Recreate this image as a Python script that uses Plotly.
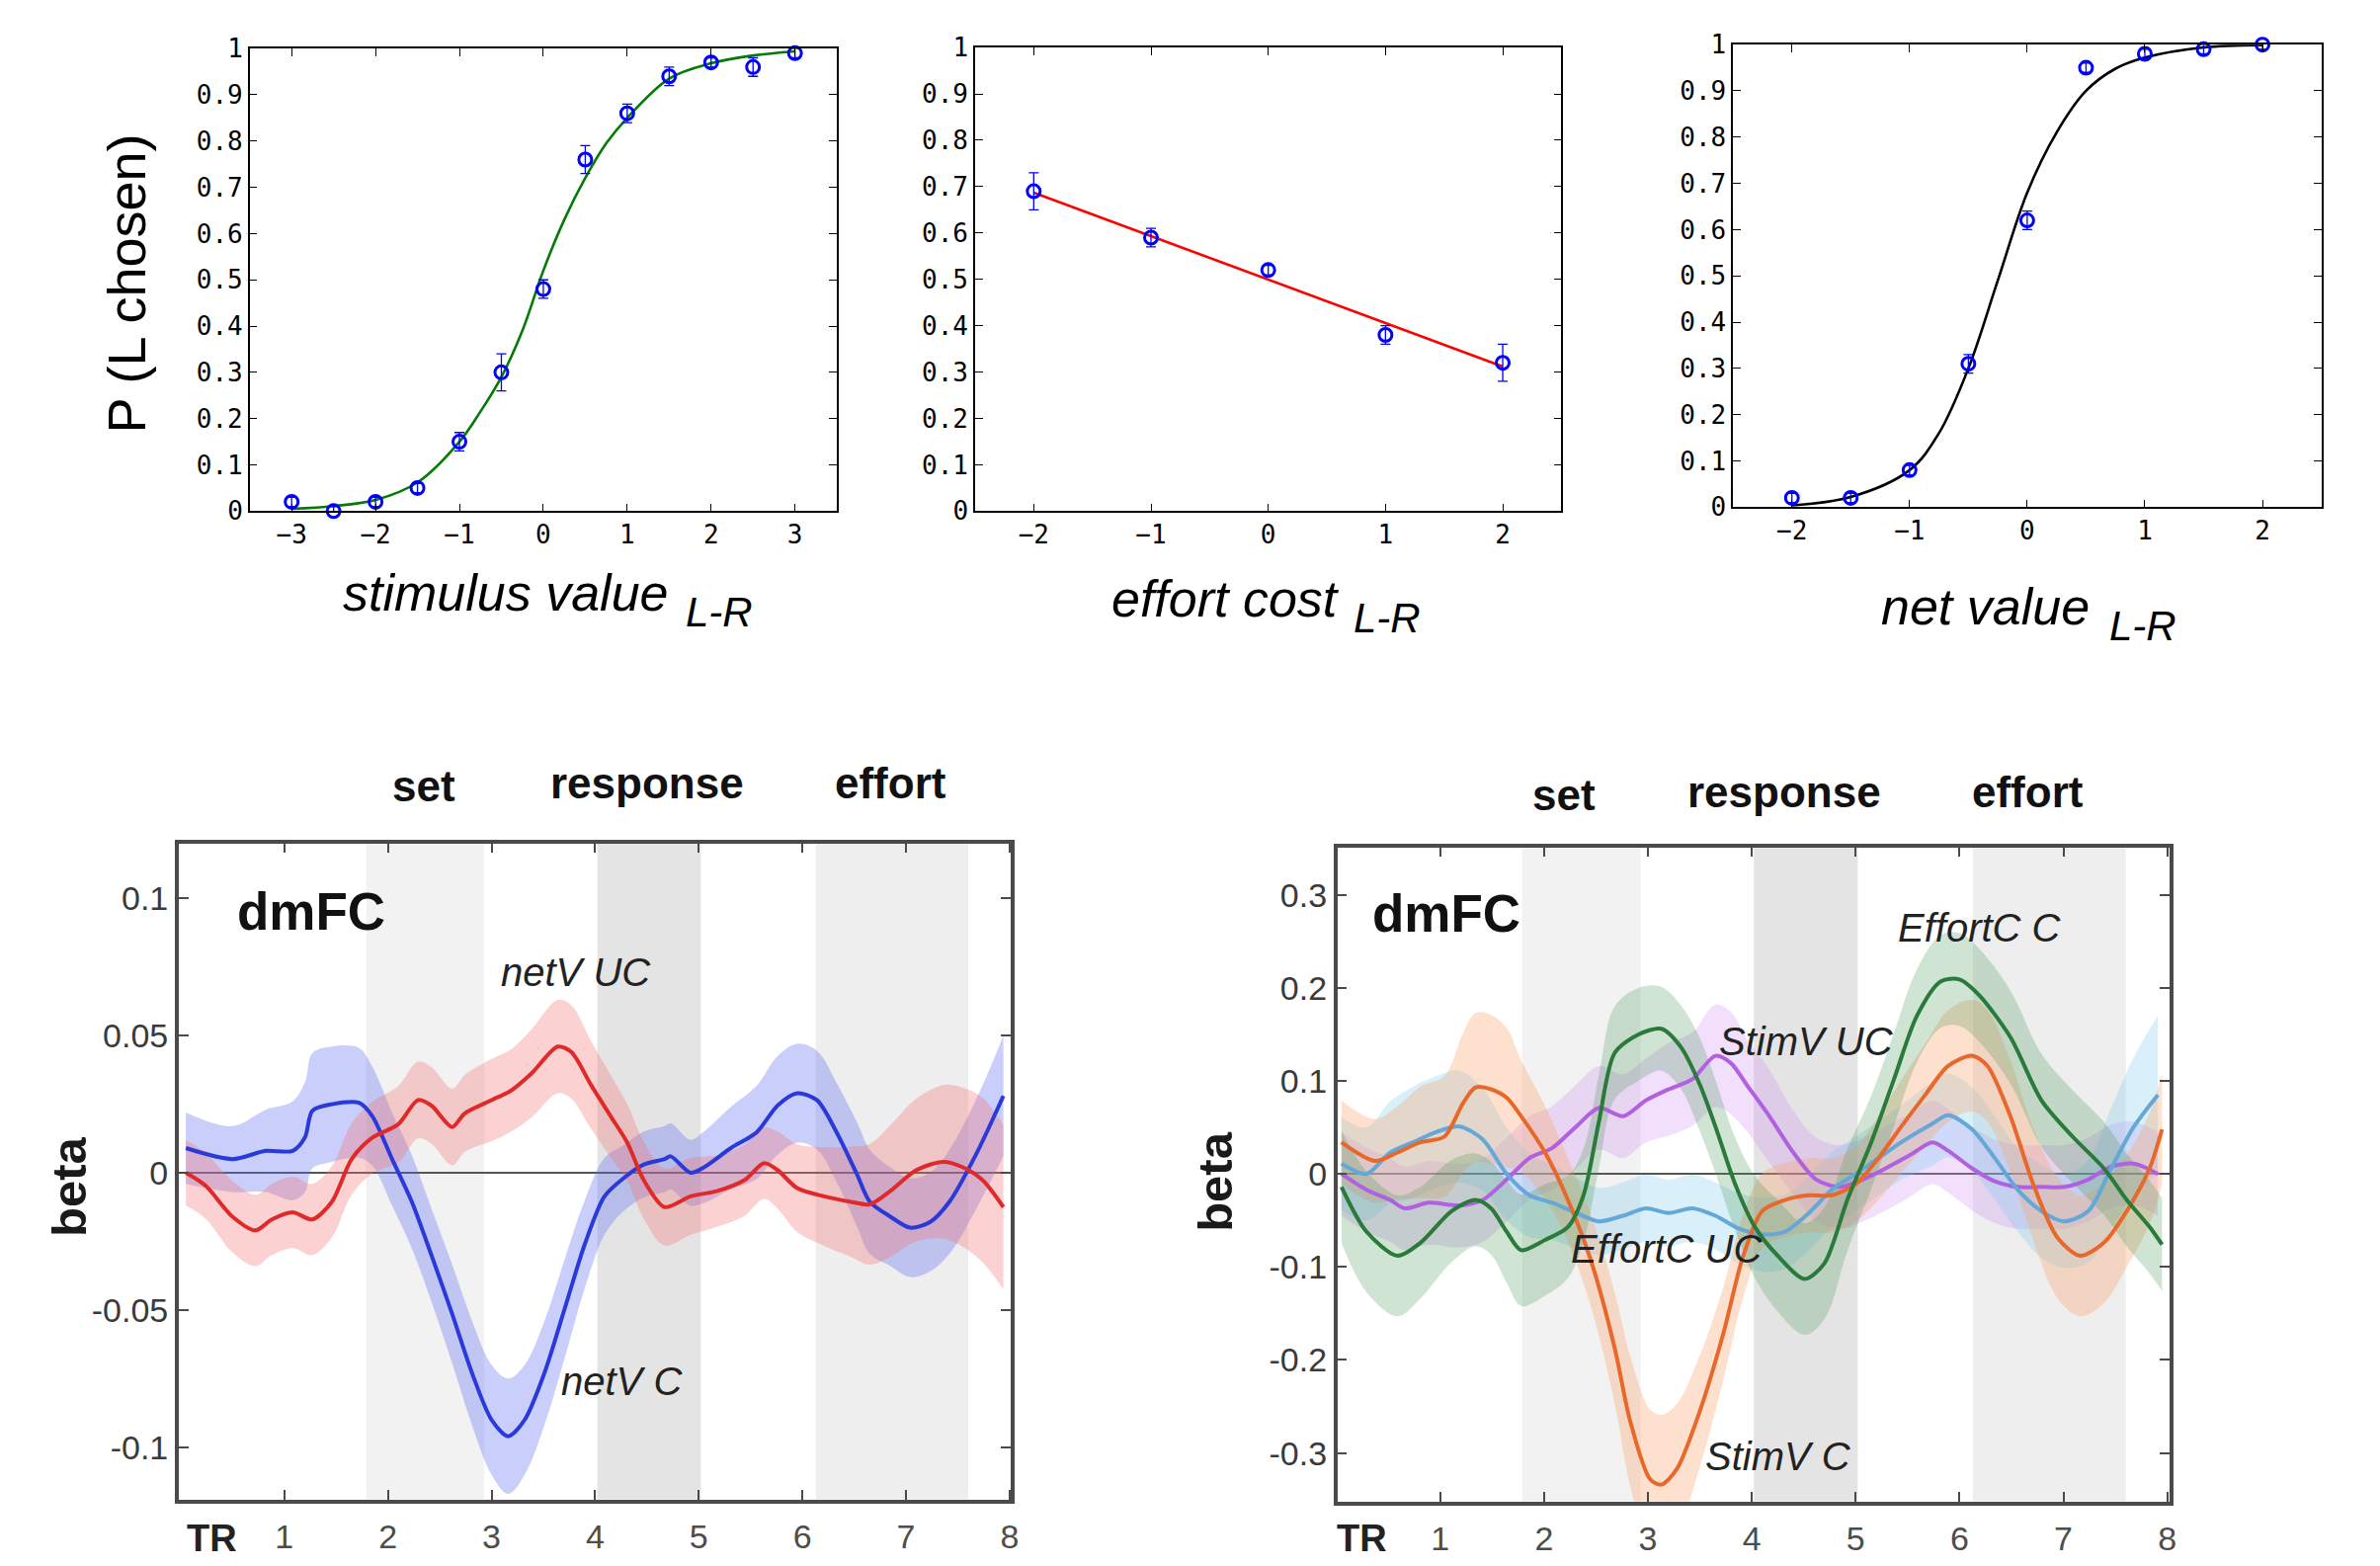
import plotly.graph_objects as go

W, H = 2409, 1585
# small empirical correction so that on-screen positions match the target pixel positions
A_X, B_X = 0.9977, -1.0
A_Y, B_Y = 0.9828, 11.8

def px(x):
    return ((x - B_X) / A_X) / W

def py(y):
    return 1 - ((y - B_Y) / A_Y) / H

# ---------------- top panels data ----------------
stim_x = [-3, -2.5, -2, -1.5, -1, -0.5, 0, 0.5, 1, 1.5, 2, 2.5, 3]
stim_p = [0.02, 0.0, 0.02, 0.05, 0.15, 0.30, 0.48, 0.76, 0.86, 0.94, 0.97, 0.96, 0.99]
stim_err = [0.01, 0.01, 0.01, 0.01, 0.02, 0.04, 0.02, 0.03, 0.02, 0.02, 0.01, 0.02, 0.01]
stim_fit_x = [-3, -2.5, -2, -1.5, -1, -0.75, -0.5, -0.25, 0, 0.25, 0.5, 0.75, 1, 1.5, 2, 2.5, 3]
stim_fit_y = [0.005, 0.011, 0.024, 0.062, 0.15, 0.215, 0.29, 0.39, 0.52, 0.63, 0.72, 0.795, 0.85, 0.935, 0.968, 0.985, 0.994]

eff_x = [-2, -1, 0, 1, 2]
eff_p = [0.69, 0.59, 0.52, 0.38, 0.32]
eff_err = [0.04, 0.02, 0.01, 0.02, 0.04]
eff_fit_x = [-2, 2]
eff_fit_y = [0.687, 0.312]

net_x = [-2, -1.5, -1, -0.5, 0, 0.5, 1, 1.5, 2]
net_p = [0.02, 0.02, 0.08, 0.31, 0.62, 0.95, 0.98, 0.99, 1.0]
net_err = [0.01, 0.01, 0.01, 0.02, 0.02, 0.01, 0.01, 0.01, 0.01]
net_fit_x = [-2, -1.5, -1, -0.75, -0.5, -0.25, 0, 0.25, 0.5, 0.75, 1, 1.5, 2]
net_fit_y = [0.004, 0.022, 0.08, 0.16, 0.30, 0.49, 0.68, 0.81, 0.90, 0.948, 0.972, 0.994, 0.999]

# ---------------- bottom-left data (dmFC, netV) ----------------
netC_x = [0.05, 0.5, 0.82, 1.08, 1.2, 1.27, 1.46, 1.72, 1.85, 2.04, 2.23, 2.42, 2.62, 2.81, 3.0, 3.16,
          3.32, 3.51, 3.71, 3.9, 4.09, 4.28, 4.47, 4.67, 4.73, 4.92, 5.05, 5.31, 5.56, 5.76, 5.95, 6.14,
          6.33, 6.53, 6.65, 6.85, 7.04, 7.23, 7.42, 7.68, 7.94]
netC_y = [0.009, 0.005, 0.008, 0.008, 0.013, 0.0226, 0.025, 0.0255, 0.0206, 0.005, -0.0105, -0.030,
          -0.0514, -0.0728, -0.090, -0.096, -0.090, -0.073, -0.049, -0.026, -0.0086, -0.0018, 0.003,
          0.005, 0.006, 0.0, 0.002, 0.009, 0.0148, 0.0245, 0.029, 0.0265, 0.0148, -0.0008, -0.0105,
          -0.016, -0.020, -0.018, -0.0105, 0.007, 0.028]
netC_se = [0.013, 0.012, 0.015, 0.018, 0.02, 0.021, 0.021, 0.02, 0.018, 0.017, 0.017, 0.017, 0.018,
           0.019, 0.02, 0.021, 0.02, 0.019, 0.018, 0.016, 0.014, 0.012, 0.012, 0.012, 0.012, 0.012,
           0.013, 0.015, 0.017, 0.018, 0.018, 0.018, 0.018, 0.019, 0.019, 0.018, 0.018, 0.018, 0.019,
           0.02, 0.022]

netUC_x = [0.05, 0.24, 0.5, 0.72, 0.88, 1.08, 1.27, 1.46, 1.65, 1.85, 2.1, 2.29, 2.42, 2.62, 2.74, 3.0,
           3.19, 3.38, 3.64, 3.77, 3.96, 4.15, 4.31, 4.47, 4.67, 4.92, 5.18, 5.44, 5.63, 5.76, 5.95,
           6.21, 6.46, 6.65, 6.85, 7.1, 7.36, 7.55, 7.74, 7.94]
netUC_y = [0.0, -0.0047, -0.016, -0.021, -0.017, -0.0144, -0.017, -0.0105, 0.005, 0.0128, 0.0177,
           0.0265, 0.0245, 0.0167, 0.0216, 0.0265, 0.030, 0.036, 0.046, 0.044, 0.032, 0.0206, 0.011,
           -0.0027, -0.0125, -0.0086, -0.0066, -0.0027, 0.0035, 0.001, -0.0056, -0.0086, -0.0105,
           -0.0115, -0.0066, 0.001, 0.004, 0.002, -0.0027, -0.0125]
netUC_se = [0.012, 0.012, 0.013, 0.013, 0.013, 0.013, 0.013, 0.013, 0.013, 0.013, 0.014, 0.014, 0.014,
            0.014, 0.014, 0.015, 0.015, 0.016, 0.017, 0.017, 0.016, 0.015, 0.014, 0.014, 0.014, 0.014,
            0.013, 0.013, 0.013, 0.014, 0.016, 0.018, 0.02, 0.022, 0.024, 0.026, 0.028, 0.029, 0.03, 0.03]

# ---------------- bottom-right data (dmFC, StimV / EffortC) ----------------
stimC_x = [0.05, 0.37, 0.59, 0.81, 1.04, 1.22, 1.34, 1.49, 1.64, 1.78, 2.01, 2.23, 2.46, 2.68, 2.83,
           3.02, 3.13, 3.28, 3.5, 3.73, 3.91, 4.1, 4.32, 4.55, 4.77, 5.0, 5.22, 5.44, 5.67, 5.89, 6.12,
           6.27, 6.49, 6.71, 6.94, 7.16, 7.39, 7.61, 7.83, 7.95]
stimC_y = [0.034, 0.014, 0.023, 0.034, 0.04, 0.076, 0.093, 0.091, 0.082, 0.062, 0.023, -0.028, -0.096,
           -0.187, -0.266, -0.328, -0.334, -0.317, -0.255, -0.170, -0.091, -0.040, -0.028, -0.023,
           -0.023, -0.011, 0.017, 0.051, 0.085, 0.116, 0.127, 0.116, 0.062, -0.011, -0.068, -0.088,
           -0.074, -0.040, 0.006, 0.048]
stimC_se = [0.045, 0.045, 0.05, 0.06, 0.065, 0.075, 0.08, 0.08, 0.075, 0.06, 0.05, 0.045, 0.05, 0.06,
            0.07, 0.075, 0.075, 0.07, 0.06, 0.05, 0.045, 0.04, 0.04, 0.04, 0.04, 0.04, 0.045, 0.05,
            0.055, 0.06, 0.06, 0.06, 0.06, 0.06, 0.065, 0.065, 0.065, 0.06, 0.06, 0.06]

effC_x = [0.05, 0.29, 0.59, 0.81, 1.11, 1.34, 1.49, 1.64, 1.78, 2.01, 2.23, 2.38, 2.53, 2.68, 2.91, 3.13,
          3.32, 3.5, 3.65, 3.84, 4.03, 4.25, 4.51, 4.7, 4.92, 5.15, 5.37, 5.59, 5.82, 6.0, 6.19, 6.49,
          6.79, 7.09, 7.39, 7.61, 7.83, 7.95]
effC_y = [-0.014, -0.062, -0.088, -0.074, -0.040, -0.028, -0.037, -0.062, -0.082, -0.071, -0.057,
          -0.023, 0.057, 0.130, 0.150, 0.156, 0.136, 0.096, 0.051, -0.011, -0.057, -0.088, -0.113,
          -0.096, -0.028, 0.034, 0.102, 0.170, 0.207, 0.209, 0.192, 0.147, 0.079, 0.040, 0.006,
          -0.028, -0.057, -0.076]
effC_se = [0.06, 0.065, 0.065, 0.06, 0.055, 0.05, 0.05, 0.055, 0.06, 0.06, 0.055, 0.05, 0.05, 0.05,
           0.05, 0.045, 0.045, 0.05, 0.05, 0.05, 0.055, 0.06, 0.06, 0.06, 0.055, 0.05, 0.05, 0.05, 0.05,
           0.05, 0.05, 0.05, 0.05, 0.05, 0.05, 0.05, 0.05, 0.05]

effUC_x = [0.05, 0.29, 0.52, 0.74, 0.96, 1.19, 1.41, 1.64, 1.86, 2.08, 2.31, 2.53, 2.76, 2.98, 3.2,
           3.43, 3.65, 3.88, 4.1, 4.32, 4.55, 4.77, 5.0, 5.22, 5.44, 5.74, 5.89, 6.12, 6.34, 6.56, 6.79,
           7.01, 7.24, 7.46, 7.68, 7.91]
effUC_y = [0.011, 0.0, 0.023, 0.034, 0.045, 0.051, 0.037, 0.0, -0.023, -0.031, -0.042, -0.051, -0.045,
           -0.037, -0.042, -0.037, -0.045, -0.059, -0.065, -0.062, -0.042, -0.017, 0.0, 0.017, 0.034,
           0.054, 0.063, 0.048, 0.017, -0.017, -0.040, -0.051, -0.040, 0.006, 0.051, 0.085]
effUC_se = [0.05, 0.05, 0.055, 0.06, 0.06, 0.06, 0.055, 0.05, 0.045, 0.04, 0.038, 0.036, 0.036, 0.036,
            0.036, 0.036, 0.036, 0.038, 0.04, 0.04, 0.04, 0.04, 0.04, 0.04, 0.04, 0.045, 0.045, 0.045,
            0.045, 0.045, 0.05, 0.05, 0.055, 0.065, 0.075, 0.085]

stimUC_x = [0.05, 0.29, 0.52, 0.66, 0.89, 1.19, 1.41, 1.64, 1.86, 2.08, 2.31, 2.53, 2.76, 2.98, 3.2,
            3.43, 3.65, 3.8, 3.95, 4.17, 4.4, 4.62, 4.85, 5.07, 5.29, 5.52, 5.74, 5.89, 6.12, 6.34,
            6.56, 6.79, 7.01, 7.24, 7.46, 7.68, 7.91]
stimUC_y = [0.0, -0.017, -0.028, -0.037, -0.031, -0.034, -0.028, -0.006, 0.017, 0.028, 0.051, 0.071,
            0.062, 0.079, 0.091, 0.102, 0.127, 0.119, 0.096, 0.062, 0.023, -0.006, -0.014, -0.006,
            0.006, 0.020, 0.034, 0.025, 0.006, -0.008, -0.014, -0.014, -0.014, -0.006, 0.008, 0.011,
            0.0]
stimUC_se = [0.045, 0.045, 0.045, 0.045, 0.045, 0.045, 0.045, 0.045, 0.045, 0.045, 0.045, 0.045,
             0.045, 0.045, 0.05, 0.05, 0.055, 0.055, 0.05, 0.05, 0.045, 0.045, 0.045, 0.045, 0.045,
             0.045, 0.045, 0.045, 0.045, 0.045, 0.045, 0.045, 0.045, 0.045, 0.045, 0.045, 0.045]

# task epoch bands (TR units)
epoch_names = ["set", "response", "effort"]
epoch_start = [1.79, 4.02, 6.13]
epoch_end = [2.93, 5.02, 7.60]
epoch_colors = ["#f2f2f2", "#e4e4e4", "#eeeeee"]

fig = go.Figure()

# ---------------- top panels ----------------
BLUE = "#0000ff"

def add_top(xa, ya, xs, ps, errs, fx, fy, fitcolor):
    fig.add_trace(go.Scatter(x=fx, y=fy, mode="lines", line=dict(color=fitcolor, width=2.6, shape="spline"),
                             xaxis=xa, yaxis=ya, showlegend=False, cliponaxis=False))
    fig.add_trace(go.Scatter(x=xs, y=ps, mode="markers",
                             marker=dict(symbol="circle-open", size=13, color=BLUE, line=dict(width=3, color=BLUE)),
                             error_y=dict(type="data", array=errs, color=BLUE, thickness=1.3, width=5),
                             xaxis=xa, yaxis=ya, showlegend=False, cliponaxis=False))

add_top("x", "y", stim_x, stim_p, stim_err, stim_fit_x, stim_fit_y, "#067a06")
add_top("x2", "y2", eff_x, eff_p, eff_err, eff_fit_x, eff_fit_y, "#ff0000")
add_top("x3", "y3", net_x, net_p, net_err, net_fit_x, net_fit_y, "#000000")

# ---------------- bottom panels ----------------
def add_band(xa, ya, xs, ys, se, fillcolor):
    up = [a + b for a, b in zip(ys, se)]
    lo = [a - b for a, b in zip(ys, se)]
    fig.add_trace(go.Scatter(x=xs, y=up, mode="lines", line=dict(width=0, shape="spline"),
                             xaxis=xa, yaxis=ya, showlegend=False, hoverinfo="skip"))
    fig.add_trace(go.Scatter(x=xs, y=lo, mode="lines", line=dict(width=0, shape="spline"), fill="tonexty",
                             fillcolor=fillcolor, xaxis=xa, yaxis=ya, showlegend=False, hoverinfo="skip"))

def add_line(xa, ya, xs, ys, color, width=4):
    fig.add_trace(go.Scatter(x=xs, y=ys, mode="lines", line=dict(color=color, width=width, shape="spline", smoothing=0.8),
                             xaxis=xa, yaxis=ya, showlegend=False))

add_band("x4", "y4", netC_x, netC_y, netC_se, "rgba(95,105,240,0.33)")
add_band("x4", "y4", netUC_x, netUC_y, netUC_se, "rgba(245,115,115,0.33)")
add_line("x4", "y4", netC_x, netC_y, "#2a3ad8")
add_line("x4", "y4", netUC_x, netUC_y, "#e02a2a")

add_band("x5", "y5", stimUC_x, stimUC_y, stimUC_se, "rgba(205,140,245,0.28)")
add_band("x5", "y5", effUC_x, effUC_y, effUC_se, "rgba(120,200,240,0.28)")
add_band("x5", "y5", stimC_x, stimC_y, stimC_se, "rgba(250,165,105,0.33)")
add_band("x5", "y5", effC_x, effC_y, effC_se, "rgba(70,150,80,0.26)")
add_line("x5", "y5", stimUC_x, stimUC_y, "#b060e0")
add_line("x5", "y5", effUC_x, effUC_y, "#64a8d8")
add_line("x5", "y5", stimC_x, stimC_y, "#e8682c")
add_line("x5", "y5", effC_x, effC_y, "#2a7a3a")

# ---------------- axes ----------------
TICKFONT_TOP = dict(family="DejaVu Sans Mono", size=26, color="black")
top_common = dict(showline=True, linecolor="black", linewidth=1.5, mirror="ticks", ticks="inside",
                  ticklen=8, tickwidth=1.2, tickcolor="black", showgrid=False, zeroline=False,
                  tickfont=TICKFONT_TOP)
yvals = [0, 0.1, 0.2, 0.3, 0.4, 0.5, 0.6, 0.7, 0.8, 0.9, 1]
ytext = ["0", "0.1", "0.2", "0.3", "0.4", "0.5", "0.6", "0.7", "0.8", "0.9", "1"]
x1vals = [-3, -2, -1, 0, 1, 2, 3]
x23vals = [-2, -1, 0, 1, 2]

def mtext(v):
    return ("\u2212" + str(abs(v))) if v < 0 else str(v)

panels = {
    "1": dict(x=(252, 847), y=(46, 515), xr=[-3.5, 3.5], xv=x1vals),
    "2": dict(x=(987, 1581), y=(45, 515), xr=[-2.5, 2.5], xv=x23vals),
    "3": dict(x=(1755, 2351), y=(42, 511), xr=[-2.5, 2.5], xv=x23vals),
}
lay = {}
for k, p in panels.items():
    sx = "" if k == "1" else k
    lay["xaxis" + sx] = dict(domain=[px(p["x"][0]), px(p["x"][1])], range=p["xr"], anchor="y" + sx,
                             tickvals=p["xv"], ticktext=[mtext(v) for v in p["xv"]], **top_common)
    lay["yaxis" + sx] = dict(domain=[py(p["y"][1]), py(p["y"][0])], range=[0, 1], anchor="x" + sx,
                             tickvals=yvals, ticktext=ytext, **top_common)

bot_common = dict(showline=True, linecolor="#4a4a4a", linewidth=3.5, mirror="ticks", ticks="inside",
                  ticklen=10, tickwidth=2, tickcolor="#4a4a4a", showgrid=False)
BOT_XFONT = dict(family="Liberation Sans", size=34, color="#4d4d4d")
BOT_YFONT = dict(family="Liberation Sans", size=34, color="#3a3a3a")
lay["xaxis4"] = dict(domain=[px(180), px(1023)], range=[-0.02, 8.01], anchor="y4", tickvals=[1, 2, 3, 4, 5, 6, 7, 8],
                     tickfont=BOT_XFONT, ticklabelstandoff=5, zeroline=False, **bot_common)
lay["yaxis4"] = dict(domain=[py(1517), py(852)], range=[-0.119, 0.120], anchor="x4",
                     tickvals=[-0.1, -0.05, 0, 0.05, 0.1], ticktext=["-0.1", "-0.05", "0", "0.05", "0.1"],
                     tickfont=BOT_YFONT, ticklabelstandoff=0,
                     zeroline=True, zerolinecolor="#555555", zerolinewidth=2, **bot_common)
lay["xaxis5"] = dict(domain=[px(1354), px(2197)], range=[0.01, 8.02], anchor="y5", tickvals=[1, 2, 3, 4, 5, 6, 7, 8],
                     tickfont=BOT_XFONT, ticklabelstandoff=5, zeroline=False, **bot_common)
lay["yaxis5"] = dict(domain=[py(1519), py(856)], range=[-0.352, 0.351], anchor="x5",
                     tickvals=[-0.3, -0.2, -0.1, 0, 0.1, 0.2, 0.3],
                     ticktext=["-0.3", "-0.2", "-0.1", "0", "0.1", "0.2", "0.3"],
                     tickfont=BOT_YFONT, ticklabelstandoff=0,
                     zeroline=True, zerolinecolor="#555555", zerolinewidth=2, **bot_common)

# epoch shading
shapes = []
for xa, ya in (("x4", "y4"), ("x5", "y5")):
    for s, e, c in zip(epoch_start, epoch_end, epoch_colors):
        shapes.append(dict(type="rect", xref=xa, yref=ya + " domain", x0=s, x1=e, y0=0, y1=1,
                           fillcolor=c, line=dict(width=0), layer="below"))

# ---------------- annotations ----------------
ann = []

def txt(x, y, s, size, italic=False, bold=False, color="black", angle=0, xanchor="center"):
    t = s
    if bold:
        t = "<b>" + t + "</b>"
    if italic:
        t = "<i>" + t + "</i>"
    ann.append(dict(x=px(x), y=py(y), xref="paper", yref="paper", text=t, showarrow=False,
                    font=dict(family="Liberation Sans", size=size, color=color), textangle=angle,
                    xanchor=xanchor, yanchor="middle"))

txt(127, 284, "P (L chosen)", 54, angle=-90)
txt(344, 598, "stimulus value", 52, italic=True, xanchor="left")
txt(692, 617, "L-R", 42, italic=True, xanchor="left")
txt(1123, 604, "effort cost", 52, italic=True, xanchor="left")
txt(1368, 623, "L-R", 42, italic=True, xanchor="left")
txt(1903, 612, "net value", 52, italic=True, xanchor="left")
txt(2134, 631, "L-R", 42, italic=True, xanchor="left")

# bottom-left
txt(428, 794, "set", 44, bold=True, color="#111111")
txt(655, 791, "response", 44, bold=True, color="#111111")
txt(901, 791, "effort", 44, bold=True, color="#111111")
txt(314, 921, "dmFC", 53, bold=True, color="#111111")
txt(583, 983, "netV UC", 40, italic=True, color="#222222")
txt(629, 1397, "netV C", 40, italic=True, color="#222222")
txt(69, 1200, "beta", 49, bold=True, angle=-90, color="#1a1a1a")
txt(214, 1557, "TR", 38, bold=True, color="#222222")

# bottom-right
txt(1584, 803, "set", 44, bold=True, color="#111111")
txt(1807, 800, "response", 44, bold=True, color="#111111")
txt(2054, 800, "effort", 44, bold=True, color="#111111")
txt(1465, 923, "dmFC", 53, bold=True, color="#111111")
txt(2005, 937, "EffortC C", 40, italic=True, color="#222222")
txt(1829, 1053, "StimV UC", 40, italic=True, color="#222222")
txt(1688, 1263, "EffortC UC", 40, italic=True, color="#222222")
txt(1801, 1473, "StimV C", 40, italic=True, color="#222222")
txt(1230, 1195, "beta", 49, bold=True, angle=-90, color="#1a1a1a")
txt(1379, 1557, "TR", 38, bold=True, color="#222222")

fig.update_layout(width=W, height=H, margin=dict(l=0, r=0, t=0, b=0), paper_bgcolor="white",
                  plot_bgcolor="white", showlegend=False, shapes=shapes, annotations=ann, **lay)

fig.write_html("out.html", config={"displayModeBar": False},
               post_script="document.body.style.margin='0px';")
